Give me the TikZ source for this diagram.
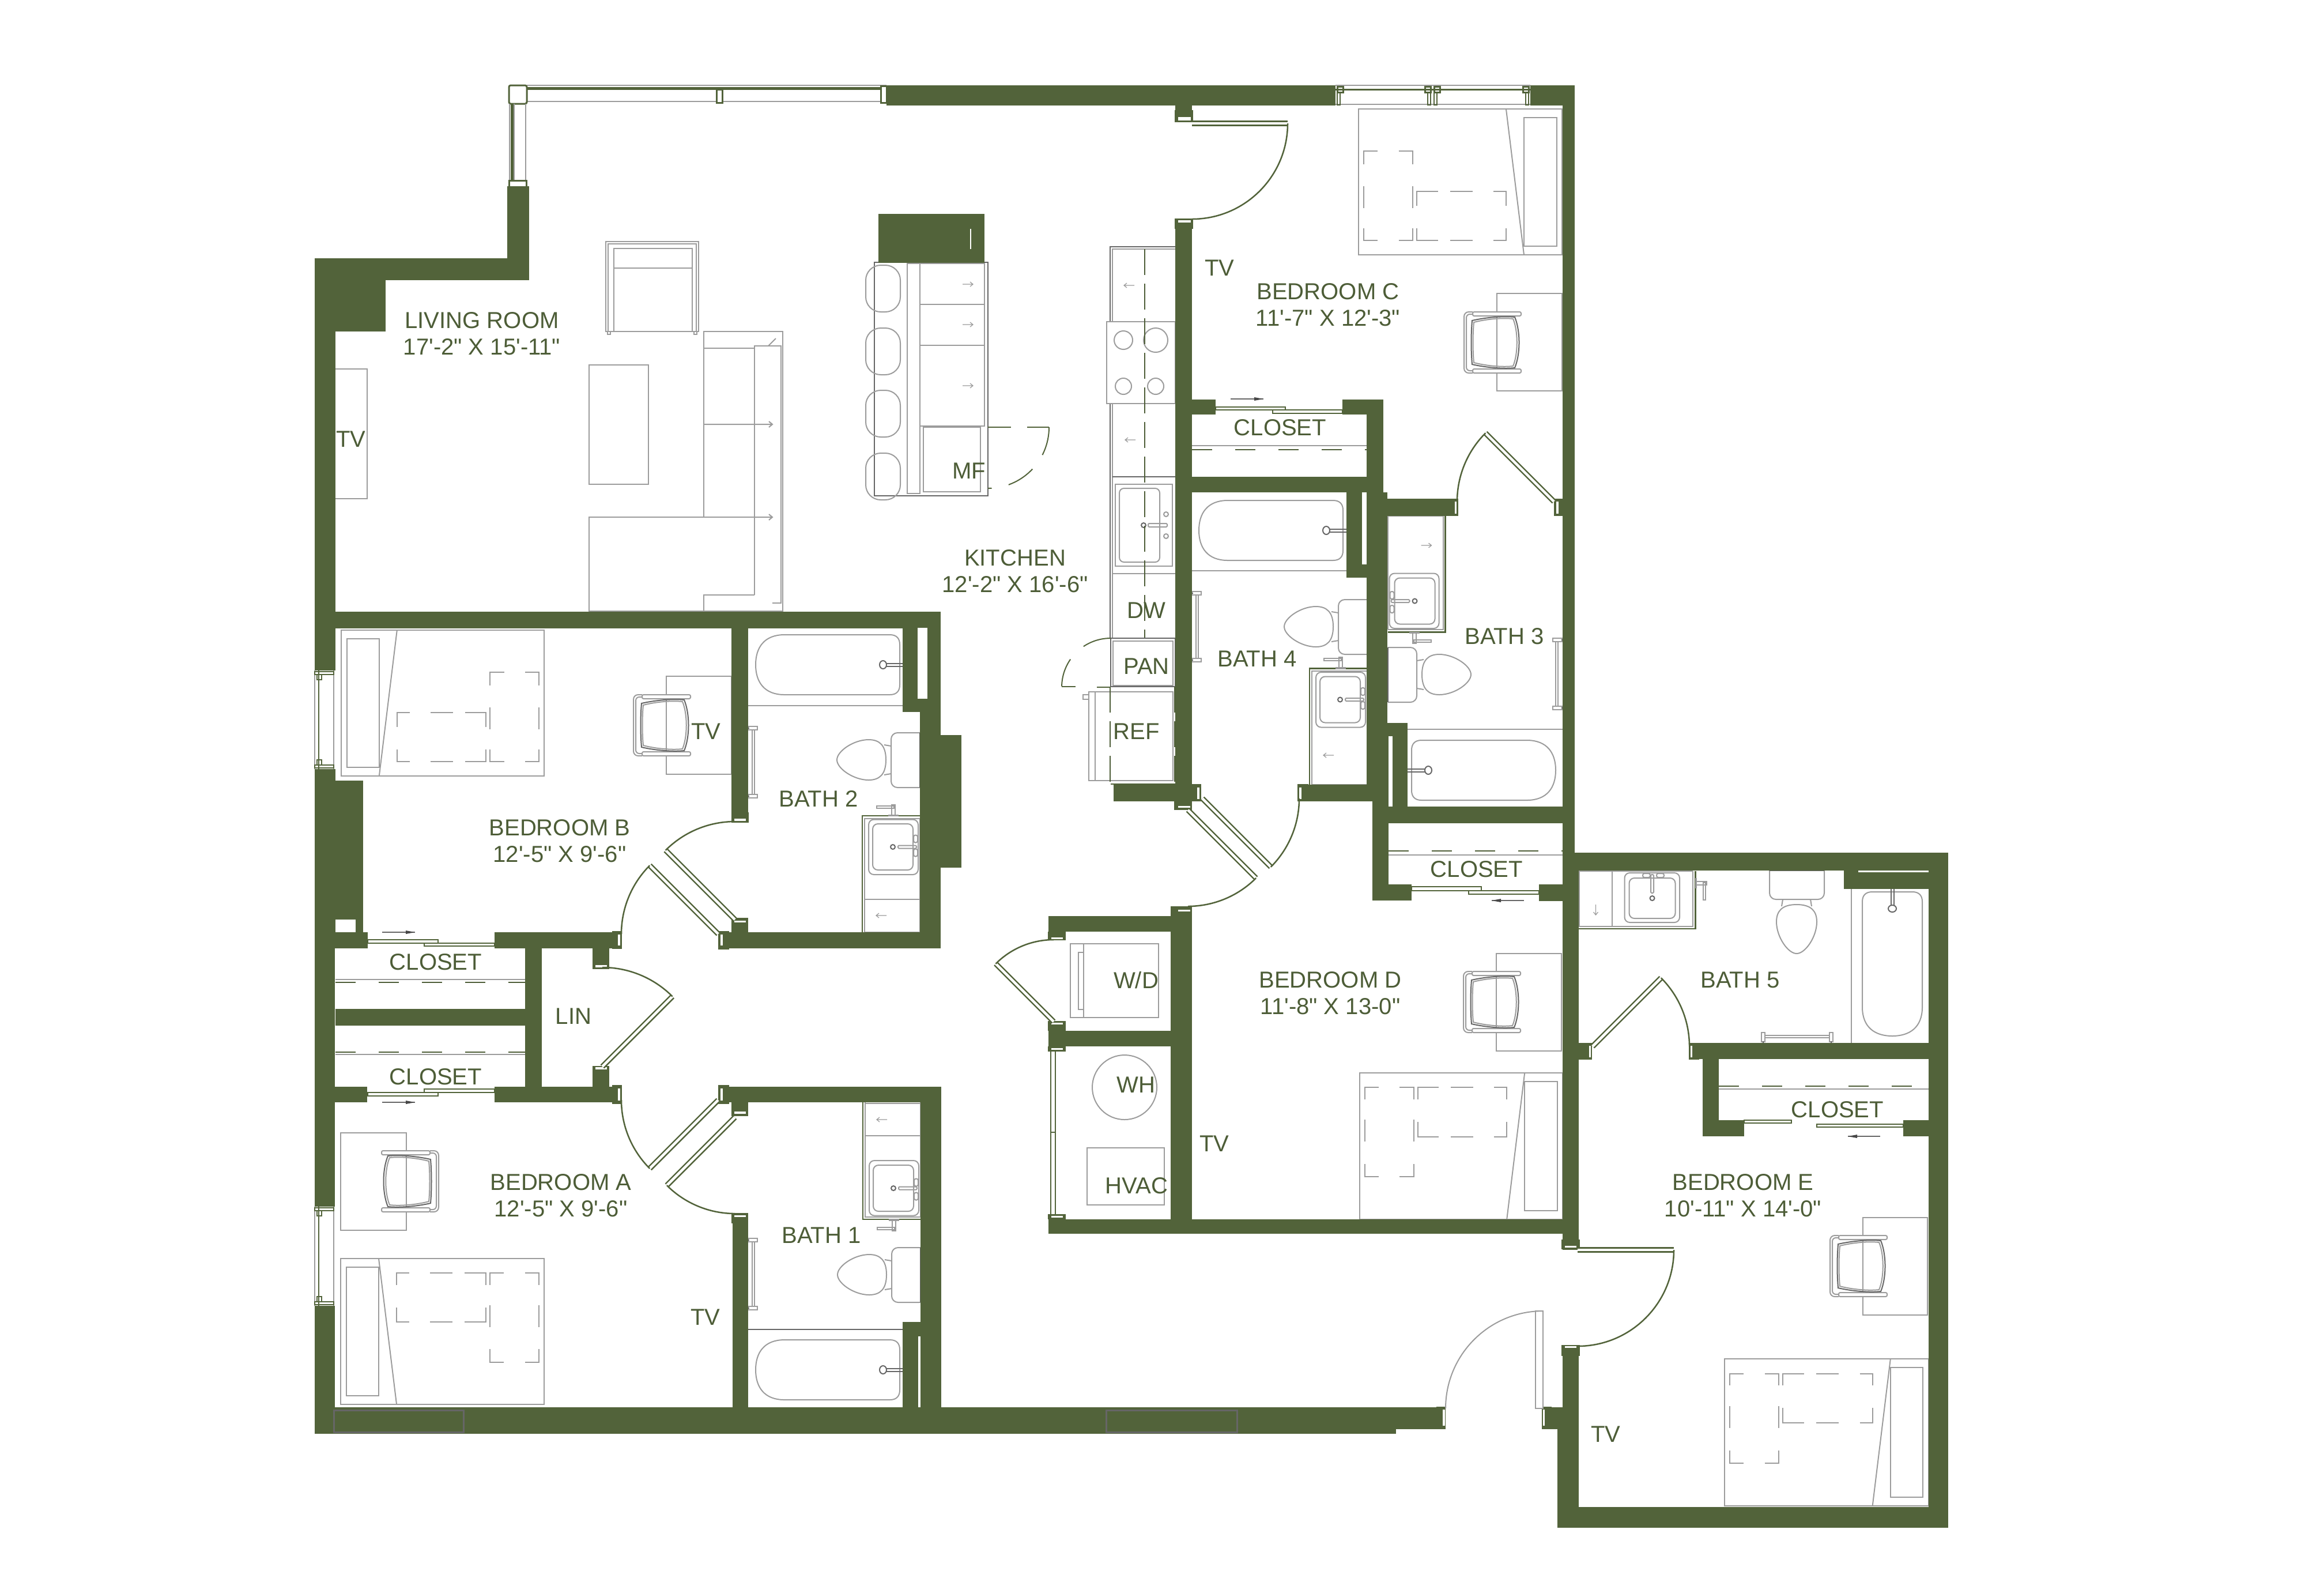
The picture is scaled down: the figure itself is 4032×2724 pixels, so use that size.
\documentclass[tikz,border=0pt]{standalone}
\usepackage{fontspec}
\newfontfamily\lblf{Liberation Sans}
\definecolor{wallc}{HTML}{52633A}
\definecolor{txtc}{HTML}{4D5D37}
\definecolor{furc}{HTML}{9C9C9C}
\definecolor{darkg}{HTML}{666666}
\tikzset{
 furn/.style={draw=furc,line width=0.2mm},
 furd/.style={draw=darkg,line width=0.2mm},
 grn/.style={draw=wallc,line width=0.25mm},
 lbl/.style={font=\lblf\fontsize{11.4}{13}\selectfont,text=txtc,inner sep=0pt,align=center},
 fr/.style n args={6}{shift={(#1,#2)},x={({(#3)*0.1mm},{-(#4)*0.1mm})},y={({(#5)*0.1mm},{-(#6)*0.1mm})}},
 dsh/.style={draw=txtc,line width=0.2mm,dash pattern=on 4.5mm off 1.5mm},
 dsc/.style={draw=txtc,line width=0.2mm,dash pattern=on 3.5mm off 4mm},
}
\newcommand\WL[4]{\fill[wallc] (#1,#2) rectangle (#3,#4);}
\newcommand\WH[4]{\fill[white] (#1,#2) rectangle (#3,#4);}
\newcommand\JB[8]{\fill[wallc] (#1,#2) rectangle (#3,#4);\fill[white] (#5,#6) rectangle (#7,#8);}
% door: centre, radius, leaf angle, closed angle
\newcommand\Swing[5]{%
 \draw[wallc,line width=0.95mm,line cap=butt] (#1,#2) -- ++(#4:#3);
 \draw[white,line width=0.45mm,line cap=butt] (#1,#2) -- ++(#4:#3);
 \draw[grn] (#1,#2) ++(#4:#3) arc[start angle=#4,end angle=#5,radius=#3];}
\newcommand\ArrH[3]{\draw[furc,line width=0.12mm] ({#1-9*#3},#2) -- ({#1+9*#3},#2) ({#1+4*#3},{#2-4}) -- ({#1+9*#3},#2) -- ({#1+4*#3},{#2+4});}
\newcommand\Slide[3]{\pgfmathsetmacro\sg{ifthenelse(#2>#1,-1,1)}%
 \draw[darkg,line width=0.15mm] (#1,#3) -- (#2,#3);
 \fill[darkg!70!black] (#2,#3) -- ({#2+\sg*16},{#3-3}) -- ({#2+\sg*16},{#3+3}) -- cycle;}
\newcommand\Leaf[4]{\draw[grn,fill=white] (#1,#2) rectangle (#3,#4);}
\newcommand\Pil{%
 \draw[furn] (.025,.378)--(.025,.29)--(.094,.29) (.197,.29)--(.266,.29)--(.266,.378)
 (.025,.53)--(.025,.68) (.266,.53)--(.266,.68)
 (.025,.82)--(.025,.90)--(.094,.90) (.197,.90)--(.266,.90)--(.266,.82);
 \draw[furn] (.286,.665)--(.286,.565)--(.39,.565) (.45,.565)--(.56,.565) (.663,.565)--(.725,.565)--(.725,.665)
 (.286,.82)--(.286,.90)--(.39,.90) (.45,.90)--(.56,.90) (.663,.90)--(.725,.90)--(.725,.82);}
\newcommand\Bed[6]{\begin{scope}[fr={#1}{#2}{#3}{#4}{#5}{#6}]
 \draw[furn] (0,0) rectangle (1,1);
 \draw[furn] (.725,0) -- (.813,1);
 \draw[furn] (.813,.06) rectangle (.973,.94);
 \Pil
 \end{scope}}
\newcommand\Chair[6]{\begin{scope}[fr={#1}{#2}{#3}{#4}{#5}{#6}]
 \draw[furn,rounded corners=0.25mm,fill=white] (-35,-53) rectangle (49,-46);
 \draw[furn,rounded corners=0.25mm,fill=white] (-35,46) rectangle (49,53);
 \draw[furn,rounded corners=0.8mm] (-35,-53) -- (-50,-53) -- (-50,53) -- (-35,53);
 \draw[furn,rounded corners=0.6mm] (-35,-49) -- (-46,-49) -- (-46,49) -- (-35,49);
 \draw[furd] (-36,-38) .. controls (-10,-44) and (20,-46) .. (38,-44) .. controls (48,-20) and (48,20) .. (38,44) .. controls (20,46) and (-10,44) .. (-36,38) .. controls (-38,15) and (-38,-15) .. cycle;
 \draw[furn] (-33,-35) .. controls (-10,-41) and (18,-43) .. (35,-41) .. controls (44,-20) and (44,20) .. (35,41) .. controls (18,43) and (-10,41) .. (-33,35) .. controls (-35,15) and (-35,-15) .. cycle;
 \end{scope}}
\newcommand\Toilet[6]{\begin{scope}[fr={#1}{#2}{#3}{#4}{#5}{#6}]
 \draw[furn,rounded corners=1.1mm] (0,-47) -- (-50,-47) -- (-50,48) -- (0,48);
 \draw[furd,line width=0.25mm] (0,-47) -- (0,48);
 \draw[furn] (-50,-24) -- (-62,-26) (-50,24) -- (-62,26);
 \draw[furn] (-144,0) .. controls (-144,-15) and (-115,-35) .. (-89,-35) .. controls (-70,-35) and (-59,-25) .. (-59,0) .. controls (-59,25) and (-70,35) .. (-89,35) .. controls (-115,35) and (-144,15) .. (-144,0) -- cycle;
 \end{scope}}
\newcommand\Tub[6]{\begin{scope}[fr={#1}{#2}{#3}{#4}{#5}{#6}]
 \draw[furn] (-75,-52) -- (108,-52) .. controls (120,-52) and (125,-45) .. (125,-35) -- (125,35) .. controls (125,45) and (120,52) .. (108,52) -- (-75,52) .. controls (-110,52) and (-125,30) .. (-125,0) .. controls (-125,-30) and (-110,-52) .. (-75,-52) -- cycle;
 \draw[furd] (102,-2) -- (134,-2) (102,3) -- (134,3);
 \draw[furd,fill=white] (96,0) ellipse (6 and 7);
 \draw[darkg,line width=0.2mm] (134,-18) -- (134,18);
 \end{scope}}
% settings of a vanity: arrow position, drawer line, sink shift, tap shift
\newcommand\VSet[4]{\def\VArr{#1}\def\VLine{#2}\def\VSk{#3}\def\VFx{#4}}
\newcommand\Vanity[6]{\begin{scope}[fr={#1}{#2}{#3}{#4}{#5}{#6}]
 \draw[grn] (-50,101.5) -- (-50,-101.5) -- (50,-101.5);
 \draw[furn] (-46,101.5) -- (-46,-97) -- (50,-97) (50,-97) -- (50,101.5) (-46,100) -- (50,100);
 \ifdim\VLine pt>0pt \draw[furn] (-46,\VLine) -- (50,\VLine);\fi
 \begin{scope}[shift={(0,\VSk)}]
 \draw[furn,rounded corners=0.9mm] (-39,-95) rectangle (47,0.5);
 \draw[furn,rounded corners=0.9mm] (-32,-87.5) rectangle (38,-7.5);
 \draw[furd] (3,-47.5) circle (4);
 \draw[furn,rounded corners=0.15mm] (12,-50) rectangle (44,-45);
 \draw[furn,rounded corners=0.3mm] (39,-68) rectangle (46,-55);
 \draw[furn,rounded corners=0.3mm] (39,-44) rectangle (46,-31);
 \end{scope}
 \begin{scope}[shift={(\VFx,0)}]
 \draw[furn] (-25,-119) rectangle (5,-115) (1,-121) rectangle (7,-103) (-4,-103) rectangle (12,-101.5);
 \end{scope}
 \draw[furc,line width=0.12mm] (-26,\VArr) -- (-8,\VArr) (-21,\VArr-4) -- (-26,\VArr) -- (-21,\VArr+4);
 \end{scope}}
\newcommand\Towel[7]{\begin{scope}[fr={#1}{#2}{#3}{#4}{#5}{#6}]
 \draw[furn] (-#7,-1) -- (#7,-1) (-#7,3) -- (#7,3);
 \draw[furn,fill=white] (-#7-5,-8) rectangle (-#7+1,8);
 \draw[furn,fill=white] (#7-1,-8) rectangle (#7+5,8);
 \draw[darkg,line width=0.3mm] (-#7-3,-8) -- (-#7-1,-8) (#7+1,-8) -- (#7+3,-8);
 \end{scope}}
\newcommand\LWin[2]{%
 \fill[white] (546,#1) rectangle (580,#2);
 \draw[furn] (546,#1) -- (546,#2) (579,#1) -- (579,#2);
 \draw[grn] (553,#1) -- (553,#2);
 \draw[grn] (546,{#1+2}) rectangle (579,{#1+7}) (550,{#1+7}) rectangle (558,{#1+16});
 \draw[grn] (546,{#2-2}) rectangle (579,{#2-7}) (550,{#2-7}) rectangle (558,{#2-16});}
\newcommand\TWin[2]{%
 \draw[furn] (#1,148) -- (#2,148) (#1,181) -- (#2,181);
 \draw[wallc,line width=0.3mm] (#1,155) -- (#2,155);
 \draw[grn,line width=0.3mm] ({#1+3},150) rectangle ({#1+13},160) ({#2-13},150) rectangle ({#2-3},160);
 \draw[grn,line width=0.25mm] ({#1+3},160) rectangle ({#1+8},182) ({#2-8},160) rectangle ({#2-3},182);}
\begin{document}
\begin{tikzpicture}[x=0.1mm,y=-0.1mm]
\useasboundingbox (0,0) rectangle (4032,2724);
\fill[white] (0,0) rectangle (4032,2724);
%% --- living room furniture
\draw[furn] (581,640) rectangle (637,865);
\draw[furn] (1022,633) rectangle (1125,840);
\draw[furn] (1051,419) rectangle (1212,575) (1055,423) rectangle (1208,575);
\draw[furn] (1065,431) rectangle (1201,575) (1065,465) -- (1201,465);
\draw[furn] (1054,575) rectangle (1059,580) (1204,575) rectangle (1209,580);
\draw[furn] (1221,897) -- (1221,575) -- (1358,575) -- (1358,1060) -- (1022,1060) -- (1022,897) -- (1309,897);
\draw[furn] (1309,1032) -- (1309,600) -- (1355,600) -- (1355,1046) -- (1340,1046);
\draw[furn] (1221,604) -- (1309,604);
\draw[furn] (1221,736) -- (1340,736) (1334,731) -- (1340,736) -- (1334,741);
\draw[furn] (1309,897) -- (1340,897) (1334,892) -- (1340,897) -- (1334,902);
\draw[furn] (1221,1060) -- (1221,1032) -- (1309,1032);
\draw[furn] (1333,600) -- (1346,587);
%% --- island
\draw[darkg,line width=0.15mm] (1517,455) rectangle (1714,860);
\draw[furn] (1574,457) rectangle (1596,856);
\draw[furn] (1596,457) rectangle (1708,739) (1596,528) -- (1708,528) (1596,599) -- (1708,599);
\draw[furn] (1602,741) rectangle (1701,853);
\foreach \yy in {493,563,669} {\ArrH{1679}{\yy}{1}}
\foreach \yy in {460,569,677,786} {\draw[furn,rounded corners=2.6mm] (1502,\yy) rectangle (1562,\yy+81);}
\draw[grn,line width=0.2mm] (1714,741) -- (1754,741) (1782,741) -- (1820,741);
\draw[grn,line width=0.2mm,dash pattern=on 5mm off 3mm] (1820,741) arc[start angle=0,end angle=90,radius=106];
%% --- kitchen counter
\draw[darkg,line width=0.15mm] (2039,428) -- (1926,428) -- (1926,1107) (1926,1107) -- (2039,1107);
\draw[furn] (2039,432) -- (1930,432) -- (1930,1107);
\draw[furn,fill=white] (1920,558) rectangle (2039,700);
\draw[furn] (1949,590) circle (16) (2005,590) circle (21) (1949,670) circle (14) (2005,670) circle (14);
\ArrH{1959}{495}{-1}\ArrH{1961}{763}{-1}
\draw[darkg,line width=0.2mm] (1930,827) -- (2039,827);
\draw[furn] (1935,840) rectangle (2034,982);
\draw[furn,rounded corners=0.8mm] (1942,847) rectangle (2012,975);
\draw[furd] (1984,911) circle (4);
\draw[furn,rounded corners=0.15mm] (1992,908) rectangle (2025,914);
\draw[furn] (2023,892) circle (4) (2023,930) circle (4);
\draw[furn] (1930,995) -- (2039,995);
\draw[dsh] (1986,432) -- (1986,1107);
\draw[furn] (1931,1112) rectangle (2035,1189);
\draw[darkg,line width=0.15mm] (1927,1107) rectangle (2039,1191);
\draw[furn] (1889,1200) rectangle (2035,1354) (1900,1200) -- (1900,1354);
\draw[furn] (1879,1205) rectangle (1889,1213);
\draw[dsh] (1926,1191) -- (1926,1360);
\draw[dsh] (2038,1191) -- (2038,1360);
\draw[grn,line width=0.2mm] (1927,1360) -- (2039,1360);
\draw[grn,line width=0.2mm,dash pattern=on 5mm off 3.2mm] (1927,1107) arc[start angle=270,end angle=180,radius=85];
\draw[grn,line width=0.2mm] (1842,1191) -- (1866,1191) (1903,1192) -- (1927,1192);
%% --- bedrooms furniture
\Bed{2357}{189}{353}{0}{0}{253}
\Bed{944}{1093}{-352}{0}{0}{253}
\Bed{944}{2436}{-353}{0}{0}{-253}
\Bed{2359}{2115}{352}{0}{0}{-254}
\Bed{2992}{2612}{354}{0}{0}{-255}
\draw[furn] (2597,509) rectangle (2710,678);
\draw[furn] (1156,1173) rectangle (1269,1343);
\draw[furn] (591,1965) rectangle (705,2134);
\draw[furn] (2596,1654) rectangle (2709,1823);
\draw[furn] (3232,2112) rectangle (3344,2281);
\Chair{2590}{594}{1}{0}{0}{1}
\Chair{1149}{1258}{1}{0}{0}{1}
\Chair{711}{2049}{-1}{0}{0}{1}
\Chair{2589}{1738}{1}{0}{0}{1}
\Chair{3225}{2196}{1}{0}{0}{1}
%% --- baths
\Tub{2205}{920}{1}{0}{0}{1}
\Tub{1436}{1153}{1}{0}{0}{1}
\Tub{1436}{2376}{1}{0}{0}{1}
\Tub{2574}{1336}{-1}{0}{0}{1}
\Tub{3283}{1672}{0}{-1}{1}{0}
\draw[furn] (2068,990) -- (2336,990);
\draw[furn] (1298,1224) -- (1566,1224);
\draw[furd] (1298,2306) -- (1566,2306);
\draw[furn] (2442,1265) -- (2711,1265);
\draw[furn] (3212,1542) -- (3212,1809);
\Toilet{1596}{1318}{1}{0}{0}{1}
\Toilet{2372}{1087}{1}{0}{0}{1}
\Toilet{1597}{2211}{1}{0}{0}{1}
\Toilet{2408}{1170}{-1}{0}{0}{1}
\Toilet{3117}{1510}{0}{-1}{1}{0}
\VSet{71.5}{43.5}{0}{0}
\Vanity{1546}{1516.5}{1}{0}{0}{1}
\Vanity{1547}{2013.5}{1}{0}{0}{-1}
\VSet{49}{0}{0}{0}
\Vanity{2322}{1261}{1}{0}{0}{1}
\Vanity{2457.5}{995}{-1}{0}{0}{-1}
\VSet{71.5}{43.5}{21}{25}
\Vanity{2840}{1561}{0}{-1}{-1}{0}
\Towel{1306}{1322}{0}{1}{1}{0}{57}
\Towel{2076}{1087}{0}{1}{1}{0}{56}
\Towel{1306}{2210}{0}{1}{1}{0}{57}
\Towel{2702}{1169}{0}{1}{-1}{0}{57}
\Towel{3118}{1799}{1}{0}{0}{-1}{57}
%% --- utility rooms
\draw[furn] (1857,1637) rectangle (2010,1765) (1880,1637) -- (1880,1765) (1871,1652) rectangle (1880,1751);
\draw[furn] (1951,1886) circle (56);
\draw[furn] (1886,1991) rectangle (2020,2090);
\draw[grn] (1823,1822) rectangle (1831,2110) (1823,1964) -- (1831,1964);
%% --- closets: shelves and sliders
\draw[furn] (2068,773) -- (2371,773); \draw[dsc] (2068,780) -- (2371,780);
\draw[furn] (582,1699) -- (911,1699); \draw[dsc] (582,1704) -- (911,1704);
\draw[furn] (582,1829) -- (911,1829); \draw[dsc] (582,1825) -- (911,1825);
\draw[furn] (2409,1483) -- (2711,1483); \draw[dsc] (2409,1476) -- (2711,1476);
\draw[furn] (2982,1889) -- (3346,1889); \draw[dsc] (2982,1884) -- (3346,1884);
\Leaf{2109}{706}{2230}{711}\Leaf{2208}{711}{2329}{717}\Slide{2135}{2192}{692}
\Leaf{638}{1630}{760}{1636}\Leaf{736}{1636}{858}{1641}\Slide{663}{720}{1617}
\Leaf{638}{1895}{760}{1901}\Leaf{736}{1889}{858}{1895}\Slide{663}{720}{1912}
\Leaf{2449}{1538}{2570}{1545}\Leaf{2548}{1545}{2670}{1551}\Slide{2644}{2588}{1562}
\Leaf{3026}{1943}{3108}{1948}\Leaf{3152}{1950}{3302}{1955}\Slide{3262}{3206}{1971}
%% --- walls
\WL{546}{448}{918}{486}
\WL{880}{323}{918}{486}
\WL{546}{448}{669}{575}
\WL{546}{448}{582}{1163}
\WL{546}{1334}{582}{1645}
\WL{546}{1354}{630}{1595}
\WL{617}{1595}{630}{1617}
\WL{582}{1617}{638}{1645}
\WL{546}{1645}{581}{2093}
\WL{546}{2265}{581}{2487}
\WL{546}{2441}{2422}{2487}
\WL{2422}{2441}{2492}{2479}
\WL{1538}{148}{2317}{183}
\WL{2655}{148}{2732}{183}
\WL{2711}{148}{2732}{1480}
\WL{2711}{1480}{2739}{2168}
\WL{1524}{371}{1708}{456}
\WL{546}{1061}{1632}{1090}
\WL{1596}{1061}{1632}{1645}
\WL{1632}{1275}{1668}{1505}
\WL{1566}{1089}{1632}{1235}
\WH{1592}{1089}{1609}{1212}
\WL{1269}{1089}{1298}{1426}
\WL{1269}{1592}{1298}{1618}
\WL{858}{1617}{1078}{1645}
\WL{1246}{1617}{1632}{1645}
\WL{911}{1645}{940}{1888}
\WL{582}{1750}{911}{1779}
\WL{1028}{1645}{1057}{1681}
\WL{1028}{1849}{1057}{1888}
\WL{580}{1885}{637}{1912}
\WL{858}{1885}{1079}{1912}
\WL{1246}{1885}{1633}{1912}
\WL{1271}{1912}{1298}{1936}
\WL{1271}{2104}{1298}{2441}
\WL{1597}{1885}{1633}{2441}
\WL{1566}{2293}{1597}{2441}
\WH{1593}{2318}{1597}{2441}
\WL{2039}{183}{2068}{210}
\WL{2039}{379}{2068}{1390}
\WL{1932}{1361}{2068}{1390}
\WL{2068}{693}{2109}{719}
\WL{2329}{693}{2400}{719}
\WL{2371}{693}{2400}{865}
\WL{2068}{827}{2371}{854}
\WL{2371}{854}{2407}{1390}
\WL{2400}{865}{2530}{895}
\WL{2696}{865}{2711}{895}
\WL{2336}{854}{2363}{1002}
\WL{2336}{979}{2371}{1002}
\WL{2251}{1361}{2407}{1390}
\WL{2381}{1390}{2409}{1562}
\WL{2381}{1534}{2449}{1562}
\WL{2670}{1534}{2711}{1563}
\WL{2381}{1399}{2711}{1428}
\WL{2407}{1254}{2442}{1399}
\WH{2409}{1277}{2416}{1399}
\WL{2031}{1572}{2068}{2140}
\WL{1819}{1589}{2031}{1616}
\WL{1819}{1589}{1847}{1631}
\WL{1819}{1771}{1847}{1824}
\WL{1819}{1788}{2031}{1815}
\WL{1819}{2106}{1849}{2140}
\WL{1819}{2115}{2739}{2140}
\WL{2711}{2115}{2739}{2168}
\WL{2711}{2334}{2739}{2650}
\WL{2702}{2443}{2739}{2650}
\WL{2675}{2441}{2711}{2479}
\WL{2702}{2614}{3380}{2650}
\WL{3346}{1479}{3380}{2650}
\WL{2711}{1479}{3380}{1510}
\WL{3199}{1510}{3346}{1542}
\WH{3224}{1510}{3346}{1513}
\WL{2930}{1809}{3346}{1837}
\WL{2954}{1837}{2982}{1971}
\WL{2954}{1943}{3026}{1971}
\WL{3302}{1943}{3346}{1971}
\draw[white,line width=0.2mm] (1684,397) -- (1684,432);
\draw[darkg,line width=0.3mm] (579,2446) rectangle (804,2484) (1919,2446) rectangle (2146,2484);
%% --- jambs
\JB{2038}{191}{2070}{212}{2044}{203}{2066}{209}
\JB{2038}{379}{2070}{397}{2044}{382}{2066}{386}
\JB{2518}{865}{2530}{895}{2524}{870}{2527}{891}
\JB{2696}{865}{2712}{895}{2700}{870}{2704}{891}
\JB{2068}{1360}{2084}{1390}{2077}{1366}{2081}{1386}
\JB{2251}{1360}{2270}{1390}{2254}{1366}{2258}{1386}
\JB{2037}{1390}{2068}{1405}{2044}{1398}{2065}{1401}
\JB{2038}{1574}{2068}{1593}{2044}{1578}{2065}{1581}
\JB{1818}{1616}{1849}{1631}{1824}{1626}{1844}{1629}
\JB{1818}{1771}{1849}{1788}{1824}{1774}{1844}{1777}
\JB{1818}{1815}{1849}{1824}{1824}{1818}{1844}{1821}
\JB{1818}{2106}{1849}{2115}{1824}{2109}{1844}{2112}
\JB{1062}{1615}{1079}{1646}{1072}{1621}{1076}{1640}
\JB{1246}{1615}{1265}{1647}{1250}{1621}{1254}{1640}
\JB{1269}{1592}{1298}{1617}{1274}{1597}{1294}{1600}
\JB{1269}{1409}{1299}{1427}{1274}{1420}{1294}{1424}
\JB{1028}{1660}{1057}{1681}{1033}{1674}{1053}{1678}
\JB{1028}{1849}{1057}{1870}{1033}{1851}{1053}{1855}
\JB{1062}{1882}{1079}{1915}{1072}{1888}{1076}{1909}
\JB{1246}{1882}{1265}{1915}{1250}{1888}{1254}{1909}
\JB{1269}{1912}{1298}{1936}{1274}{1928}{1294}{1932}
\JB{1269}{2104}{1298}{2122}{1274}{2108}{1294}{2111}
\JB{2739}{1809}{2762}{1838}{2757}{1814}{2760}{1834}
\JB{2930}{1809}{2948}{1838}{2933}{1814}{2936}{1834}
\JB{2709}{2150}{2741}{2167}{2715}{2161}{2735}{2164}
\JB{2709}{2333}{2741}{2352}{2715}{2335}{2735}{2338}
\JB{2492}{2440}{2508}{2479}{2503}{2445}{2507}{2473}
\JB{2675}{2440}{2692}{2479}{2677}{2445}{2680}{2473}
%% --- swing doors
\Swing{2068}{214}{166}{0}{90}
\Swing{2696}{870}{168}{225}{180}
\Swing{2086}{1385}{168}{45}{0}
\Swing{2061}{1405}{167}{45}{90}
\Swing{1828}{1772}{142}{225}{270}
\Swing{1246}{1620}{168}{225}{180}
\Swing{1275}{1595}{170}{225}{270}
\Swing{1045}{1850}{172}{315}{270}
\Swing{1246}{1908}{168}{135}{180}
\Swing{1275}{1938}{167}{135}{90}
\Swing{2763}{1815}{168}{315}{360}
\Swing{2737}{2168}{167}{0}{90}
%% entry door
\draw[furc,line width=0.2mm,fill=white] (2664,2274) rectangle (2677,2443);
\draw[furc,line width=0.2mm] (2677,2274) arc[start angle=270,end angle=180,radius=169];
%% --- windows
\TWin{2317}{2485}\TWin{2485}{2655}
\draw[furn] (914,148) -- (1538,148) (914,176) -- (1534,176);
\fill[wallc] (914,151) rectangle (1530,156);
\draw[grn,line width=0.3mm,rounded corners=0.3mm] (883,148) rectangle (914,180);
\draw[grn,fill=white,line width=0.3mm] (1243,155) rectangle (1253,178);
\draw[grn,fill=white,line width=0.3mm] (1528,149) rectangle (1538,178);
\draw[furn] (884,180) -- (884,313) (892,180) -- (892,313) (912,180) -- (912,313);
\fill[wallc] (886,180) rectangle (891,313);
\draw[grn,line width=0.3mm] (883,323) -- (883,313) -- (913,313) -- (913,323);
\LWin{1163}{1334}
\LWin{2093}{2265}
%% --- labels
\node[lbl] (lr) at (836,579) {LIVING ROOM\\17'-2" X 15'-11"};
\node[lbl] (kit) at (1761,991) {KITCHEN\\12'-2" X 16'-6"};
\node[lbl] (tvl) at (609,762) {TV};
\node[lbl] (mf) at (1681,817) {MF};
\node[lbl] (tvc) at (2116,465) {TV};
\node[lbl] (brc) at (2304,529) {BEDROOM C\\11'-7" X 12'-3"};
\node[lbl] (clc) at (2221,742) {CLOSET};
\node[lbl] (dw) at (1989,1059) {DW};
\node[lbl] (b4) at (2181,1143) {BATH 4};
\node[lbl] (b3) at (2610,1104) {BATH 3};
\node[lbl] (pan) at (1989,1156) {PAN};
\node[lbl] (ref) at (1972,1269) {REF};
\node[lbl] (wd) at (1971,1700) {W/D};
\node[lbl] (wh) at (1971,1882) {WH};
\node[lbl] (hvac) at (1972,2057) {HVAC};
\node[lbl] (brd) at (2308,1723) {BEDROOM D\\11'-8" X 13-0"};
\node[lbl] (tvd) at (2107,1984) {TV};
\node[lbl] (cld) at (2562,1508) {CLOSET};
\node[lbl] (brb) at (971,1459) {BEDROOM B\\12'-5" X 9'-6"};
\node[lbl] (tvb) at (1225,1269) {TV};
\node[lbl] (b2) at (1420,1385) {BATH 2};
\node[lbl] (clb) at (756,1669) {CLOSET};
\node[lbl] (lin) at (995,1763) {LIN};
\node[lbl] (cla) at (756,1868) {CLOSET};
\node[lbl] (bra) at (973,2074) {BEDROOM A\\12'-5" X 9'-6"};
\node[lbl] (b1) at (1425,2143) {BATH 1};
\node[lbl] (tva) at (1224,2285) {TV};
\node[lbl] (b5) at (3019,1700) {BATH 5};
\node[lbl] (cle) at (3188,1925) {CLOSET};
\node[lbl] (bre) at (3024,2074) {BEDROOM E\\10'-11" X 14'-0"};
\node[lbl] (tve) at (2786,2488) {TV};
\end{tikzpicture}
\end{document}
